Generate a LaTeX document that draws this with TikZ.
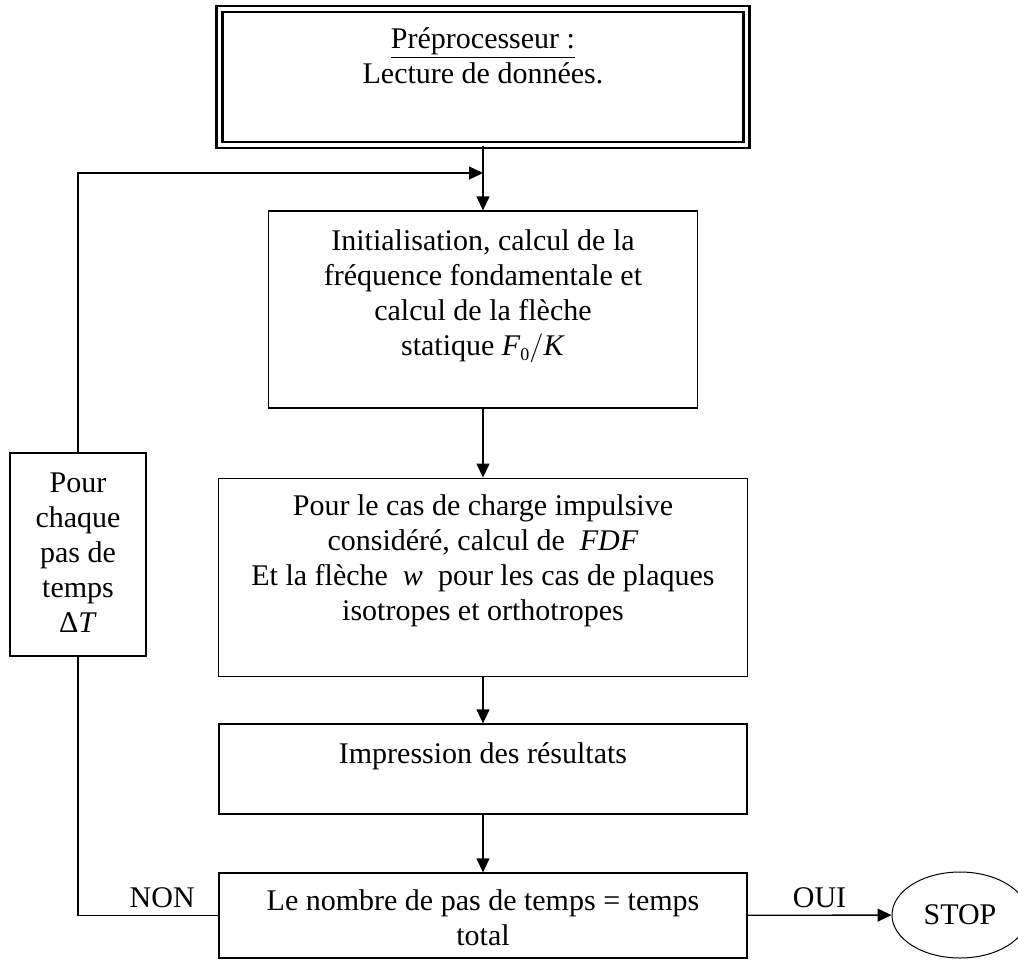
\documentclass[tikz,border=0pt]{standalone}
\usepackage{fontspec}
\setmainfont{Liberation Serif}
\usetikzlibrary{arrows.meta,shapes.geometric}

\begin{document}
\begin{tikzpicture}[x=0.5pt,y=-0.5pt,
    every node/.style={font=\fontsize{15}{17.5}\selectfont},
    bloc/.style={draw=black,line width=0.65pt,inner sep=0pt},
    ligne/.style={line width=0.65pt},
    fleche/.style={line width=0.65pt,-{Triangle[length=7pt,width=6.5pt]}}]
    \useasboundingbox (0,0) rectangle (1018,960);

    \node[bloc,double,double distance=1.85pt,line width=1.15pt] (pre) at (483,77.2) {\parbox[c][68pt][t]{263.6pt}{\centering\rule{0pt}{19.4pt}\underline{Préprocesseur :}\\ Lecture de données.}};
    \node[bloc] (init) at (483,309.5) {\parbox[c][98.5pt][t]{214.5pt}{\centering\rule{0pt}{19.5pt}Initialisation, calcul de la\\ fréquence fondamentale et\\ calcul de la flèche\\ statique \textit{F}\raisebox{-2.5pt}{\small 0}$\big/$\textit{K}}};
    \node[bloc,line width=0.45pt] (charge) at (483,577) {\parbox[c][99pt][t]{264.5pt}{\centering\rule{0pt}{18.5pt}Pour le cas de charge impulsive\\ considéré, calcul de \ \textit{FDF}\\ Et la flèche \ \textit{w} \ pour les cas de plaques\\ isotropes et orthotropes}};
    \node[bloc] (impr) at (483,769) {\parbox[c][45pt][t]{264pt}{\centering\rule{0pt}{19.5pt}Impression des résultats}};
    \node[bloc] (test) at (483,915.5) {\parbox[c][42.5pt][t]{264pt}{\centering\rule{0pt}{18.5pt}Le nombre de pas de temps = temps\\ total}};
    \node[bloc] (pas) at (78,554.5) {\parbox[c][101.5pt][t]{68pt}{\centering\rule{0pt}{19.5pt}Pour\\ chaque\\ pas de\\ temps\\ Δ\textit{T}}};
    \node[draw=black,ellipse,line width=0.5pt,minimum width=68pt,minimum height=43pt,inner sep=0pt] (stop) at (960,915) {STOP};
    \coordinate (retour) at (483,173);

    \draw[fleche] (pre) -- (init);
    \draw[fleche] (init) -- (charge);
    \draw[fleche] (charge) -- (impr);
    \draw[fleche] (impr) -- (test);
    \draw[fleche] (test) -- node[above] {OUI} (stop);
    \draw[ligne] (test.west) -| node[pos=0.2,above] {NON} (pas.south);
    \draw[fleche] (pas.north) |- (retour);
\end{tikzpicture}
\end{document}
